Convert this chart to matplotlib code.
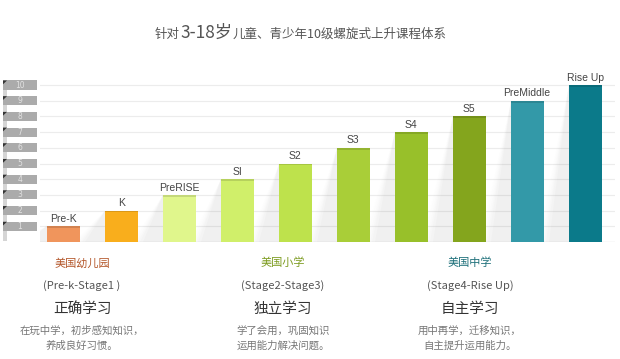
import matplotlib.pyplot as plt
import matplotlib.patches as mpatches
from matplotlib.transforms import blended_transform_factory
import numpy as np

plt.rcParams['font.family'] = ['Noto Sans CJK SC', 'DejaVu Sans']

# data
levels = ["Pre-K", "K", "PreRISE", "SI", "S2", "S3", "S4", "S5", "PreMiddle", "Rise Up"]
values = [1, 2, 3, 4, 5, 6, 7, 8, 9, 10]
colors = ["#F0955C", "#F9AE1C", "#E0F68C", "#D0EF6A", "#BEE24C", "#A9CE38",
          "#98C02A", "#84A51D", "#3399A8", "#0B7A8A"]
tick_vals = list(range(1, 11))

stages = ["美国幼儿园", "美国小学", "美国中学"]
stage_ranges = ["(Pre-k-Stage1 )", "(Stage2-Stage3)", "(Stage4-Rise Up)"]
stage_goals = ["正确学习", "独立学习", "自主学习"]
stage_desc = ["在玩中学，初步感知知识，\n养成良好习惯。",
              "学了会用，巩固知识\n运用能力解决问题。",
              "用中再学，迁移知识，\n自主提升运用能力。"]
stage_colors = ["#B4582C", "#7C9B1F", "#1C6F79"]
stage_x = [82, 283, 470]   # column centres, px

W, H = 620, 359
fig = plt.figure(figsize=(W / 100, H / 100), dpi=100)
ax = fig.add_axes([40 / W, 117 / H, 575 / W, 167 / H])
ax.set_xlim(-0.4, 9.515)
ax.set_ylim(0, 10.64)
ax.axis('off')

x = np.arange(len(levels))

# grid lines
for v in tick_vals:
    ax.axhline(v, color="#ececec", lw=0.8, zorder=0)
ax.axhline(0, color="#e3e3e3", lw=1.0, zorder=0)

# soft shadows to the left of every bar
for xi, v in zip(x, values):
    for k in range(6):
        a = 0.03 * (1 - k / 6)
        poly = mpatches.Polygon([(xi - 0.28, v), (xi - 0.28, 0), (xi - 0.28 - 0.35 - k * 0.04, 0)],
                                closed=True, fc="#888888", ec="none", alpha=a, zorder=1)
        ax.add_patch(poly)

ax.bar(x, values, width=0.57, color=colors, zorder=2)
# darker top strip
ax.bar(x, [0.12] * len(values), bottom=[v - 0.12 for v in values], width=0.57,
       color="black", alpha=0.12, zorder=3)

for xi, v, lab in zip(x, values, levels):
    ax.text(xi, v + 0.15, lab, ha='center', va='bottom', fontsize=7.5,
            color="#444444", family='Liberation Sans')

# grey tab labels on the left
tr = blended_transform_factory(fig.transFigure, ax.transData)
for v in tick_vals:
    ax.add_patch(mpatches.Rectangle((3 / W, v - 0.29), 34 / W, 0.58, transform=tr,
                                    fc="#ababab", ec="none", clip_on=False, zorder=2))
    ax.add_patch(mpatches.Polygon([(3 / W, v + 0.29), (7 / W, v + 0.29), (3 / W, v + 0.05)],
                                  transform=tr, fc="#333333", ec="none", clip_on=False, zorder=3))
    ax.text(20 / W, v, str(v), transform=tr, ha='center', va='center', fontsize=5.5,
            color="#e2e2e2", family='DejaVu Sans')
fig.add_artist(mpatches.Rectangle((3 / W, 118 / H), 4 / W, 160 / H, transform=fig.transFigure,
                                  fc="#d5d5d5", ec="none", zorder=0))

# title (mixed sizes)
t1 = fig.text(155 / W, 1 - 38 / H, "针对", fontsize=9, color="#555555", va='baseline')
t2 = fig.text(0, 0, "3-18岁", fontsize=12.5, color="#555555", va='baseline')
t3 = fig.text(0, 0, "儿童、青少年10级螺旋式上升课程体系", fontsize=9, color="#555555", va='baseline')
fig.canvas.draw()
r = fig.canvas.get_renderer()
bb = t1.get_window_extent(r)
t2.set_position((bb.x1 / W, 1 - 38 / H))
fig.canvas.draw()
bb = t2.get_window_extent(r)
t3.set_position((bb.x1 / W, 1 - 38 / H))

# stage captions
for cx, st, rg, gl, ds, sc in zip(stage_x, stages, stage_ranges, stage_goals, stage_desc, stage_colors):
    fx = cx / W
    fig.text(fx, 1 - 263 / H, st, ha='center', va='center', fontsize=8, color=sc, weight='medium')
    fig.text(fx, 1 - 286 / H, rg, ha='center', va='center', fontsize=8, color="#555555")
    fig.text(fx, 1 - 309 / H, gl, ha='center', va='center', fontsize=10.5, color="#333333")
    fig.text(fx, 1 - 338 / H, ds, ha='center', va='center', fontsize=7.5, color="#777777",
             linespacing=1.55)

fig.savefig("out.png", dpi=100, facecolor="white")
